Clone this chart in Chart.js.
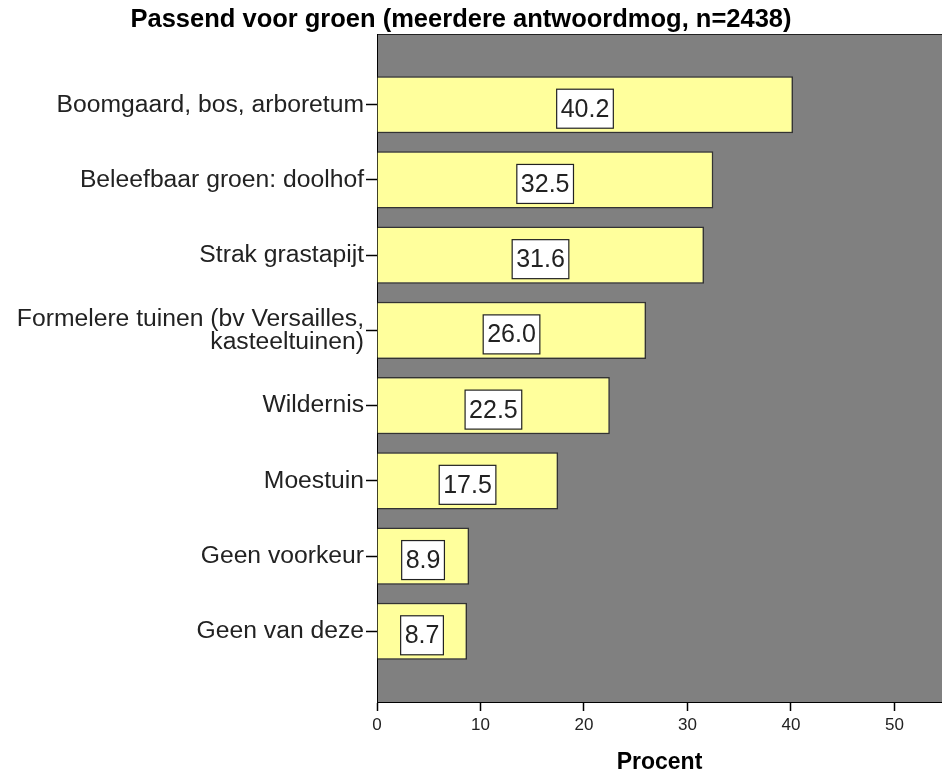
<!DOCTYPE html>
<html>
<head>
<meta charset="utf-8">
<script src="https://cdn.jsdelivr.net/npm/chart.js@4"></script>
<style>
  html, body { margin: 0; padding: 0; background: #fff; }
  #wrap { width: 942px; height: 774px; }
</style>
</head>
<body>
<div id="wrap"><canvas id="groenChart" width="942" height="774"></canvas></div>
<script>
// data
const chartTitle = 'Passend voor groen (meerdere antwoordmog, n=2438)';
const categories = [
    'Boomgaard, bos, arboretum',
    'Beleefbaar groen: doolhof',
    'Strak grastapijt',
    'Formelere tuinen (bv Versailles,|kasteeltuinen)',
    'Wildernis',
    'Moestuin',
    'Geen voorkeur',
    'Geen van deze'
];
const percentages = [40.2, 32.5, 31.6, 26.0, 22.5, 17.5, 8.9, 8.7];
const xTicks = [0, 10, 20, 30, 40, 50];
const xTitle = 'Procent';

const FONT = '"Liberation Sans", Arial, sans-serif';

// grijze plotachtergrond met rand
const plotBackground = {
    id: 'plotBackground',
    beforeDraw(chart) {
        const { ctx, chartArea: a } = chart;
        ctx.save();
        ctx.fillStyle = '#808080';
        ctx.fillRect(a.left, a.top, a.right - a.left, a.bottom - a.top);
        ctx.strokeStyle = '#222';
        ctx.lineWidth = 1;
        ctx.strokeRect(a.left + 0.5, a.top + 0.5, a.right - a.left + 5, a.bottom - a.top);
        ctx.restore();
    }
};

// titel boven de grafiek
const topTitle = {
    id: 'topTitle',
    afterDraw(chart) {
        const ctx = chart.ctx;
        ctx.save();
        ctx.font = 'bold 25.5px ' + FONT;
        ctx.fillStyle = '#000';
        ctx.textAlign = 'center';
        ctx.textBaseline = 'alphabetic';
        ctx.fillText(chartTitle, 461, 27);
        ctx.restore();
    }
};

// waardelabels in witte kaders
const valueBoxes = {
    id: 'valueBoxes',
    afterDatasetsDraw(chart) {
        const ctx = chart.ctx;
        const xScale = chart.scales.x;
        const meta = chart.getDatasetMeta(0);
        ctx.save();
        ctx.font = '25px ' + FONT;
        ctx.textAlign = 'center';
        ctx.textBaseline = 'middle';
        meta.data.forEach((bar, i) => {
            const text = percentages[i].toFixed(1);
            const cx = xScale.getPixelForValue(percentages[i] / 2);
            const cy = bar.y + 4;
            const w = ctx.measureText(text).width + 8;
            const h = 39;
            ctx.fillStyle = '#fff';
            ctx.fillRect(cx - w / 2, cy - h / 2, w, h);
            ctx.strokeStyle = '#222';
            ctx.lineWidth = 1.2;
            ctx.strokeRect(cx - w / 2, cy - h / 2, w, h);
            ctx.fillStyle = '#222';
            ctx.fillText(text, cx, cy + 1);
        });
        ctx.restore();
    }
};

const ctx = document.getElementById('groenChart').getContext('2d');
new Chart(ctx, {
    type: 'bar',
    data: {
        datasets: [{
            data: percentages.map((v, i) => ({ x: v, y: i })),
            backgroundColor: '#ffff9c',
            borderColor: '#333',
            borderWidth: 1.5,
            barPercentage: 0.76,
            categoryPercentage: 1
        }]
    },
    options: {
        indexAxis: 'y',
        responsive: false,
        animation: false,
        layout: { padding: { top: 34, right: 0, left: 0, bottom: 0 } },
        plugins: {
            legend: { display: false },
            tooltip: { enabled: false },
            title: { display: false }
        },
        scales: {
            x: {
                type: 'linear',
                min: 0,
                max: 54.6,
                afterBuildTicks: (s) => { s.ticks = xTicks.map(v => ({ value: v })); },
                afterFit: (s) => { s.height = 72; },
                grid: { drawOnChartArea: false, tickLength: 9, tickColor: '#000', tickWidth: 1.5 },
                border: { color: '#000', width: 1 },
                ticks: { color: '#222', font: { family: FONT, size: 17 }, padding: 4 },
                title: {
                    display: true,
                    text: xTitle,
                    color: '#000',
                    font: { family: FONT, size: 23, weight: 'bold', lineHeight: 1 },
                    padding: { top: 15, bottom: 0 }
                }
            },
            y: {
                type: 'linear',
                reverse: true,
                offset: false,
                min: -0.94,
                max: 7.94,
                afterBuildTicks: (s) => { s.ticks = categories.map((_, i) => ({ value: i })); },
                afterFit: (s) => { s.width = 377; },
                grid: { drawOnChartArea: false, offset: false, tickLength: 11, tickColor: '#000', tickWidth: 1.5 },
                border: { color: '#000', width: 1 },
                ticks: {
                    color: '#222',
                    font: { family: FONT, size: 24.7, lineHeight: 0.94 },
                    padding: 2,
                    autoSkip: false,
                    callback: (v) => categories[v] ? categories[v].split('|') : ''
                }
            }
        }
    },
    plugins: [plotBackground, valueBoxes, topTitle]
});
</script>
</body>
</html>
